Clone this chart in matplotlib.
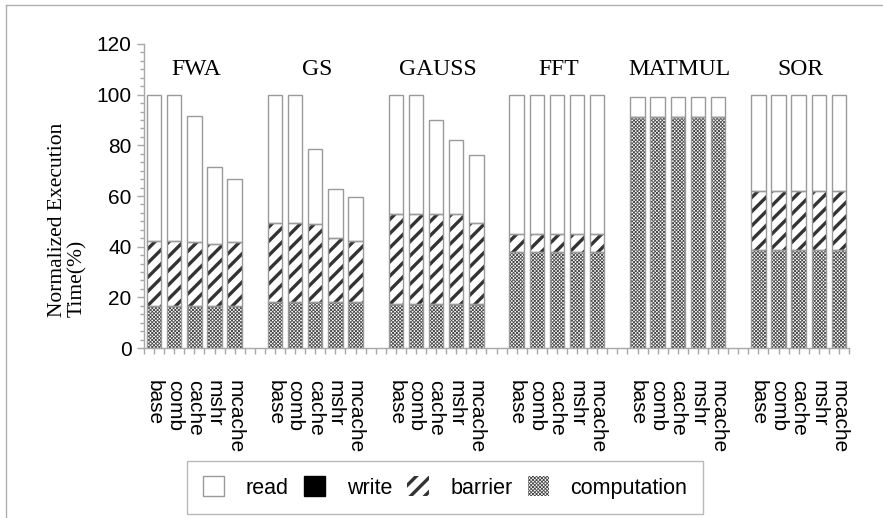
import matplotlib
matplotlib.use("Agg")
import matplotlib.pyplot as plt
import numpy as np
from matplotlib.patches import Patch
from matplotlib.lines import Line2D
from matplotlib.ticker import MultipleLocator, FixedLocator
from matplotlib.transforms import ScaledTranslation

# ---------------- data ----------------
groups = ["FWA", "GS", "GAUSS", "FFT", "MATMUL", "SOR"]
configs = ["base", "comb", "cache", "mshr", "mcache"]

computation = [
    [16.5, 16.5, 16.5, 16.5, 16.5],
    [18.0, 18.0, 18.0, 18.0, 18.0],
    [17.5, 17.5, 17.5, 17.5, 17.5],
    [37.8, 37.8, 37.8, 37.8, 37.8],
    [91.3, 91.3, 91.3, 91.3, 91.3],
    [38.5, 38.5, 38.5, 38.5, 38.5],
]
barrier = [
    [25.7, 25.7, 25.5, 24.7, 25.5],
    [31.2, 31.2, 30.9, 25.5, 24.2],
    [35.5, 35.5, 35.5, 35.5, 31.9],
    [7.3, 7.3, 7.3, 7.3, 7.3],
    [0.0, 0.0, 0.0, 0.0, 0.0],
    [23.4, 23.4, 23.4, 23.4, 23.4],
]
write = [
    [0, 0, 0, 0, 0],
    [0, 0, 0, 0, 0],
    [0, 0, 0, 0, 0],
    [0, 0, 0, 0, 0],
    [0, 0, 0, 0, 0],
    [0, 0, 0, 0, 0],
]
read = [
    [57.8, 57.8, 49.7, 30.3, 24.8],
    [50.8, 50.8, 29.8, 19.3, 17.5],
    [47.0, 47.0, 37.0, 29.1, 26.8],
    [54.9, 54.9, 54.9, 54.9, 54.9],
    [7.9, 7.9, 7.9, 7.9, 7.9],
    [38.1, 38.1, 38.1, 38.1, 38.1],
]
y_ticks = [0, 20, 40, 60, 80, 100, 120]
y_label = "Normalized Execution\nTime(%)"
legend_labels = ["read", "write", "barrier", "computation"]

# ---------------- figure ----------------
DPI = 85
K = 100 / DPI  # keep sizes as if drawn at 100 dpi


def pt(v):
    return v * K


def set_hlw(artist, lw):
    if hasattr(artist, "set_hatch_linewidth"):
        artist.set_hatch_linewidth(lw)
    else:
        artist._hatch_linewidth = lw


SANS = ["Liberation Sans", "DejaVu Sans"]
SERIF = ["Liberation Serif", "DejaVu Serif"]
plt.rcParams["font.family"] = SANS

fig = plt.figure(figsize=(883 / DPI, 518 / DPI), dpi=DPI)
ax = fig.add_axes([144 / 883, 170 / 518, 705 / 883, 304 / 518])

slot = len(configs) + 1
x = np.array([g * slot + i for g in range(len(groups)) for i in range(len(configs))], dtype=float)
comp = np.array(computation).ravel()
barr = np.array(barrier).ravel()
wr = np.array(write).ravel()
rd = np.array(read).ravel()

width = 0.72
EDGE = "#9a9a9a"
AX = "#a8a8a8"
COMP_HATCH = "xxxxxxxx"
COMP_COL = "#4a4a4a"
COMP_LW = pt(0.6)
BAR_HATCH = "//"
BAR_COL = "#333333"
BAR_LW = pt(2.4)

with plt.rc_context({"hatch.linewidth": COMP_LW}):
    ax.bar(x, comp, width, color="white", edgecolor=COMP_COL, hatch=COMP_HATCH, linewidth=0)
with plt.rc_context({"hatch.linewidth": BAR_LW}):
    ax.bar(x, barr, width, bottom=comp, color="white", edgecolor=BAR_COL, hatch=BAR_HATCH, linewidth=0)
ax.bar(x, wr, width, bottom=comp + barr, color="black", linewidth=0)
ax.bar(x, rd, width, bottom=comp + barr + wr, color="white", linewidth=0)
# outlines
ax.bar(x, comp, width, fill=False, edgecolor=EDGE, linewidth=pt(1.0))
ax.bar(x, barr, width, bottom=comp, fill=False, edgecolor=EDGE, linewidth=pt(1.0))
ax.bar(x, rd, width, bottom=comp + barr + wr, fill=False, edgecolor=EDGE, linewidth=pt(1.0))

ax.set_xlim(-0.5, len(groups) * slot - 1.5)
ax.set_ylim(0, 120)

# group titles
for g, name in enumerate(groups):
    ax.text(g * slot + (len(configs) - 1) / 2 + 0.1, 110, name, ha="center", va="center",
            fontsize=pt(17), family=SERIF)

# axes styling
for s in ("top", "right"):
    ax.spines[s].set_visible(False)
for s in ("left", "bottom"):
    ax.spines[s].set_color(AX)
    ax.spines[s].set_linewidth(pt(1.0))

ax.set_yticks(y_ticks)
ax.set_yticklabels([str(v) for v in y_ticks])
ax.yaxis.set_minor_locator(MultipleLocator(20 / 6))
ax.tick_params(axis="y", which="major", length=pt(5), width=pt(1), color=AX, labelsize=pt(15), pad=pt(4))
ax.tick_params(axis="y", which="minor", length=pt(3), width=pt(1), color=AX)

ax.set_xticks(x)
ax.set_xticklabels(configs * len(groups), rotation=-90, fontsize=pt(15))
shift = ScaledTranslation(-2.5 / DPI, 0, fig.dpi_scale_trans)
for lab in ax.get_xticklabels():
    lab.set_va("top")
    lab.set_ha("center")
    lab.set_transform(lab.get_transform() + shift)
all_half = np.arange(-0.5, len(groups) * slot - 1.5 + 0.01, 0.5)
minor = [v for v in all_half if not np.any(np.isclose(v, x))]
ax.xaxis.set_minor_locator(FixedLocator(minor))
ax.tick_params(axis="x", which="both", length=pt(4), width=pt(1), color=AX, direction="out")
ax.tick_params(axis="x", which="major", pad=pt(18.7))

fig.text(67.5 / 883, 1 - 317 / 518, y_label, rotation=90, ha="center", va="bottom",
         multialignment="left", fontsize=pt(15.5), family=SERIF, linespacing=1.0)

# legend
h_comp = Patch(facecolor="white", edgecolor=COMP_COL, hatch=COMP_HATCH, linewidth=0)
h_barr = Patch(facecolor="white", edgecolor=BAR_COL, hatch=BAR_HATCH, linewidth=0)
handles = [
    Patch(facecolor="white", edgecolor=EDGE, linewidth=pt(1.0)),
    Patch(facecolor="black", edgecolor="black", linewidth=pt(1.0)),
    h_barr,
    h_comp,
]
leg = fig.legend(handles, legend_labels, loc="center", bbox_to_anchor=(445 / 883, 1 - 487.5 / 518),
                 ncol=4, fontsize=pt(15.5), frameon=True, fancybox=False, handlelength=1.0,
                 handleheight=1.0, handletextpad=1.0, columnspacing=0.7, borderpad=0.7)
leg.get_frame().set_edgecolor(AX)
leg.get_frame().set_linewidth(pt(1.0))
lh = leg.legend_handles
set_hlw(lh[2], BAR_LW)
set_hlw(lh[3], COMP_LW)

# outer frame (partially visible)
fig.add_artist(Line2D([6 / 883, 1.0], [1 - 5 / 518, 1 - 5 / 518], transform=fig.transFigure,
                      color="#b0b0b0", linewidth=pt(1.0)))
fig.add_artist(Line2D([6 / 883, 6 / 883], [0.0, 1 - 5 / 518], transform=fig.transFigure,
                      color="#b0b0b0", linewidth=pt(1.0)))

fig.savefig("out.png", dpi=DPI)
